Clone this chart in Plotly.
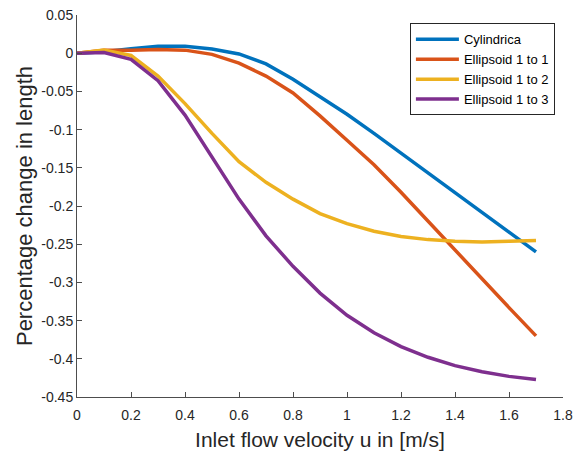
import plotly.graph_objects as go

u = [0.0, 0.1, 0.2, 0.3, 0.4, 0.5, 0.6, 0.7, 0.8, 0.9, 1.0, 1.1, 1.2, 1.3, 1.4, 1.5, 1.6, 1.7]
cylindrica = [0.0, 0.002, 0.006, 0.009, 0.009, 0.0055, -0.001, -0.014, -0.034, -0.057, -0.080, -0.105, -0.131, -0.157, -0.183, -0.209, -0.234, -0.260]
ellipsoid_1_1 = [0.0, 0.004, 0.004, 0.005, 0.004, -0.0015, -0.013, -0.030, -0.052, -0.082, -0.114, -0.146, -0.182, -0.220, -0.258, -0.296, -0.333, -0.370]
ellipsoid_1_2 = [0.0, 0.004, -0.003, -0.030, -0.066, -0.105, -0.142, -0.169, -0.191, -0.210, -0.223, -0.233, -0.240, -0.244, -0.246, -0.247, -0.246, -0.245]
ellipsoid_1_3 = [0.0, 0.001, -0.008, -0.036, -0.081, -0.136, -0.191, -0.239, -0.279, -0.314, -0.343, -0.366, -0.384, -0.398, -0.409, -0.417, -0.423, -0.427]

names = ["Cylindrica", "Ellipsoid 1 to 1", "Ellipsoid 1 to 2", "Ellipsoid 1 to 3"]
colors = ["#0072BD", "#D95319", "#EDB120", "#7E2F8E"]
series = [cylindrica, ellipsoid_1_1, ellipsoid_1_2, ellipsoid_1_3]

xticks = [0, 0.2, 0.4, 0.6, 0.8, 1.0, 1.2, 1.4, 1.6, 1.8]
xticklabels = ["0", "0.2", "0.4", "0.6", "0.8", "1", "1.2", "1.4", "1.6", "1.8"]
yticks = [0.05, 0, -0.05, -0.1, -0.15, -0.2, -0.25, -0.3, -0.35, -0.4, -0.45]
yticklabels = ["0.05", "0", "-0.05", "-0.1", "-0.15", "-0.2", "-0.25", "-0.3", "-0.35", "-0.4", "-0.45"]

fig = go.Figure()
for name, col, ys in zip(names, colors, series):
    fig.add_trace(go.Scatter(x=u, y=ys, mode="lines", name=name,
                             line=dict(color=col, width=3.5)))

axcol = "#4d4d4d"
fig.update_layout(
    width=575, height=451,
    margin=dict(l=77, r=12, t=15, b=54),
    paper_bgcolor="white", plot_bgcolor="white",
    font=dict(family="Liberation Sans, Arial, sans-serif", color="#262626"),
    showlegend=True,
    legend=dict(x=0.685, y=0.978, xanchor="left", yanchor="top",
                bordercolor="#262626", borderwidth=1, bgcolor="white",
                itemwidth=43,
                font=dict(size=13, color="#000000"), tracegroupgap=0),
    xaxis=dict(range=[0, 1.8], tickvals=xticks, ticktext=xticklabels,
               automargin=False,
               showgrid=False, zeroline=False, showline=True, linecolor=axcol,
               linewidth=1, ticks="inside", ticklen=5, tickcolor=axcol,
               ticklabelstandoff=5,
               tickfont=dict(size=14, color="#262626"),
               title=dict(text="Inlet flow velocity u in [m/s]", font=dict(size=21, color="#262626"))),
    yaxis=dict(range=[-0.45, 0.05], tickvals=yticks, ticktext=yticklabels,
               automargin=False,
               showgrid=False, zeroline=False, showline=True, linecolor=axcol,
               linewidth=1, ticks="inside", ticklen=5, tickcolor=axcol,
               tickfont=dict(size=14, color="#262626"),
               title=dict(text="Percentage change in length", standoff=2,
                          font=dict(size=22, color="#262626"))),
)

fig.write_html("out.html")
